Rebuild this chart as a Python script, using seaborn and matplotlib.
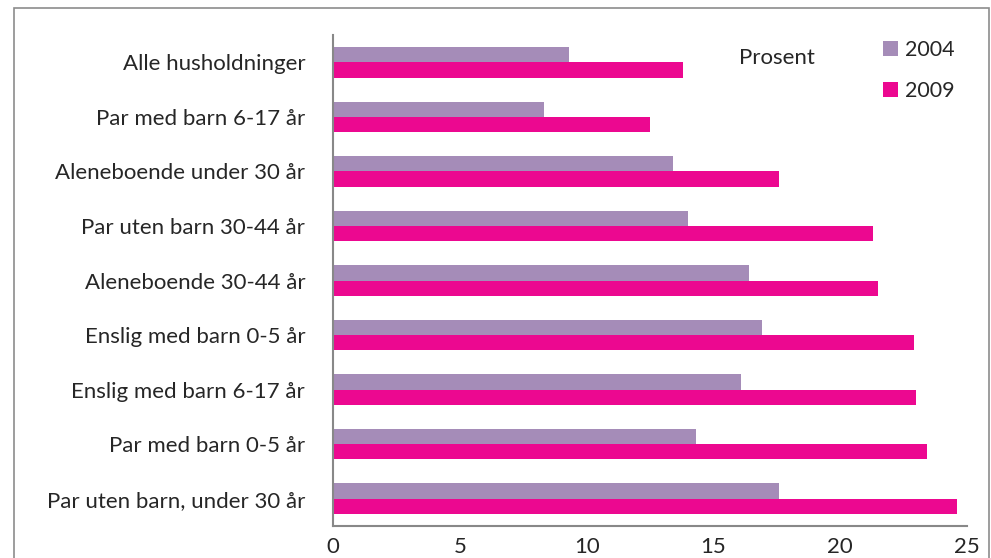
import matplotlib
matplotlib.use('Agg')
import matplotlib.pyplot as plt
from matplotlib.patches import Rectangle
import seaborn as sns
import pandas as pd

# Data (percent)
categories = ['Alle husholdninger', 'Par med barn 6-17 år', 'Aleneboende under 30 år',
              'Par uten barn 30-44 år', 'Aleneboende 30-44 år', 'Enslig med barn 0-5 år',
              'Enslig med barn 6-17 år', 'Par med barn 0-5 år', 'Par uten barn, under 30 år']
values_2004 = [9.3, 8.3, 13.4, 14.0, 16.4, 16.9, 16.1, 14.3, 17.6]
values_2009 = [13.8, 12.5, 17.6, 21.3, 21.5, 22.9, 23.0, 23.4, 24.6]
years = ['2004', '2009']
x_ticks = [0, 5, 10, 15, 20, 25]

df = pd.DataFrame({
    'kategori': categories * 2,
    'prosent': values_2004 + values_2009,
    'år': [years[0]] * len(categories) + [years[1]] * len(categories),
})

sns.set_style('white')
plt.rcParams['font.family'] = ['Lato', 'DejaVu Sans']

fig = plt.figure(figsize=(9.91, 5.58), dpi=100)
ax = fig.add_axes([0.336, 0.0573, 0.640, 0.88])

palette = {'2004': '#a58cb8', '2009': '#ec0890'}
sns.barplot(data=df, y='kategori', x='prosent', hue='år', order=categories,
            hue_order=years, palette=palette, orient='h', width=0.56,
            saturation=1, linewidth=0, ax=ax)

ax.set_xlim(0, 25)
ax.set_xticks(x_ticks)
ax.set_xlabel('')
ax.set_ylabel('')
ax.tick_params(axis='x', labelsize=16, length=8, color='#888888', pad=0)
ax.tick_params(axis='y', labelsize=16, length=0, pad=20)

# category boundary tick marks on the y axis
ax.set_yticks([i - 0.5 for i in range(len(categories) + 1)], minor=True)
ax.tick_params(axis='y', which='minor', length=6, color='#888888', direction='out')

for side in ['top', 'right']:
    ax.spines[side].set_visible(False)
for side in ['left', 'bottom']:
    ax.spines[side].set_color('#888888')
    ax.spines[side].set_linewidth(1.5)

ax.legend(loc='upper right', bbox_to_anchor=(1.01, 1.03), frameon=False, fontsize=15.5,
          handlelength=0.7, handleheight=0.7, handletextpad=0.3, labelspacing=1.0)
ax.text(0.64, 0.953, 'Prosent', transform=ax.transAxes, fontsize=16, ha='left', va='center')

# outer frame
fig.patches.append(Rectangle((14 / 991, -0.1), 975 / 991, 1.1 - 8 / 558, transform=fig.transFigure,
                             fill=False, edgecolor='#8c8c8c', linewidth=1.2))

fig.savefig('out.png', dpi=100)
